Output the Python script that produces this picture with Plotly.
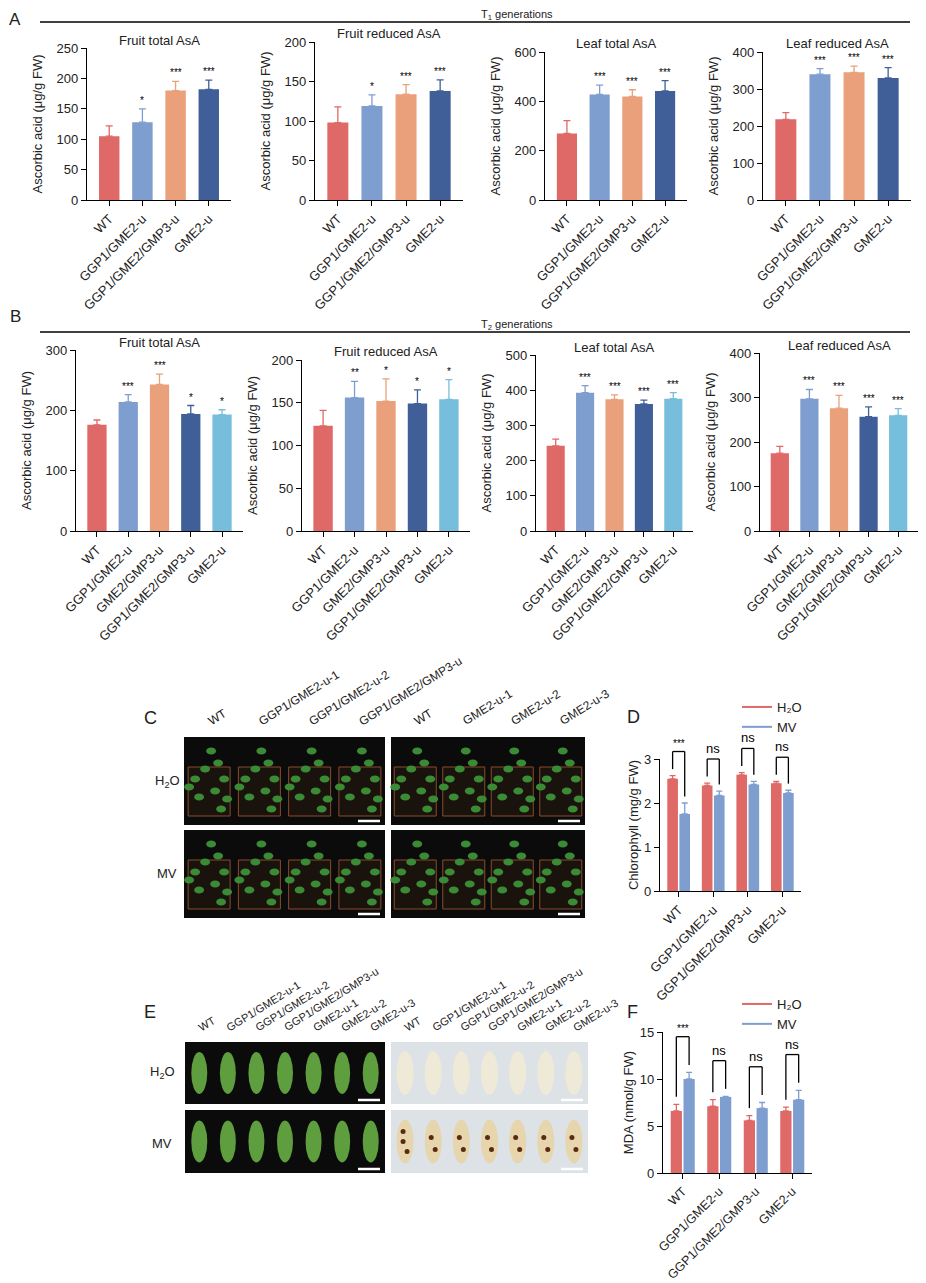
import plotly.graph_objects as go

W, H = 918, 1275   # figure size; the page body adds an 8 px margin
OFF = 8
FONT = "Liberation Sans, Arial, sans-serif"
RED, LBLUE, ORANGE, DBLUE, CYAN = "#DF6966", "#7F9ED0", "#EAA07A", "#405F99", "#76BEDB"
BARGAP = 0.3

# T1 generations: mean, SD and significance vs WT
t1_lines = ["WT", "GGP1/GME2-u", "GGP1/GME2/GMP3-u", "GME2-u"]
t1_fruit_total = [105, 128, 180, 182]
t1_fruit_total_sd = [17, 22, 15, 15]
t1_fruit_total_sig = ["", "*", "***", "***"]
t1_fruit_reduced = [98, 119, 134, 138]
t1_fruit_reduced_sd = [20, 14, 12, 14]
t1_fruit_reduced_sig = ["", "*", "***", "***"]
t1_leaf_total = [270, 428, 420, 442]
t1_leaf_total_sd = [52, 38, 27, 42]
t1_leaf_total_sig = ["", "***", "***", "***"]
t1_leaf_reduced = [218, 340, 345, 330]
t1_leaf_reduced_sd = [18, 15, 17, 28]
t1_leaf_reduced_sig = ["", "***", "***", "***"]

# T2 generations
t2_lines = ["WT", "GGP1/GME2-u", "GME2/GMP3-u", "GGP1/GME2/GMP3-u", "GME2-u"]
t2_fruit_total = [176, 214, 243, 194, 193]
t2_fruit_total_sd = [8, 12, 17, 14, 8]
t2_fruit_total_sig = ["", "***", "***", "*", "*"]
t2_fruit_reduced = [123, 156, 152, 149, 154]
t2_fruit_reduced_sd = [18, 19, 26, 16, 23]
t2_fruit_reduced_sig = ["", "**", "*", "*", "*"]
t2_leaf_total = [242, 393, 374, 361, 376]
t2_leaf_total_sd = [19, 20, 13, 11, 17]
t2_leaf_total_sig = ["", "***", "***", "***", "***"]
t2_leaf_reduced = [175, 297, 276, 257, 260]
t2_leaf_reduced_sd = [15, 21, 29, 22, 15]
t2_leaf_reduced_sig = ["", "***", "***", "***", "***"]

# methyl viologen stress (D: chlorophyll, F: MDA)
mv_lines = ["WT", "GGP1/GME2-u", "GGP1/GME2/GMP3-u", "GME2-u"]
chl_h2o = [2.55, 2.40, 2.64, 2.45]
chl_h2o_sd = [0.07, 0.05, 0.05, 0.04]
chl_mv = [1.75, 2.17, 2.42, 2.23]
chl_mv_sd = [0.25, 0.10, 0.07, 0.06]
chl_sig = ["***", "ns", "ns", "ns"]
mda_h2o = [6.6, 7.1, 5.6, 6.6]
mda_h2o_sd = [0.7, 0.7, 0.5, 0.4]
mda_mv = [10.0, 8.1, 6.9, 7.8]
mda_mv_sd = [0.7, 0.05, 0.6, 1.0]
mda_sig = ["***", "ns", "ns", "ns"]

# photo panel column labels
c_left_labels = ["WT", "GGP1/GME2-u-1", "GGP1/GME2-u-2", "GGP1/GME2/GMP3-u"]
c_right_labels = ["WT", "GME2-u-1", "GME2-u-2", "GME2-u-3"]
e_labels = ["WT", "GGP1/GME2-u-1", "GGP1/GME2-u-2", "GGP1/GME2/GMP3-u",
            "GME2-u-1", "GME2-u-2", "GME2-u-3"]


def fx(px):
    return (px - OFF) / W


def fy(py):
    return 1 - (py - OFF) / H


fig = go.Figure()
shapes, annos = [], []


def text(x, y, s, size, **kw):
    annos.append(dict(dict(x=fx(x), y=fy(y), xref="paper", yref="paper", text=s,
                           showarrow=False, xanchor="center", yanchor="middle",
                           font=dict(size=size, color="#222")), **kw))


def setup_axes(n, box, lines, ymax, dtick, ytitle, xpad, standoff, xfont=13):
    x0, x1, ytop, ybot = box
    sfx = "" if n == 1 else str(n)
    common = dict(showline=True, linecolor="black", linewidth=1.3, ticks="outside",
                  ticklen=5, tickwidth=1.3, tickcolor="black", showgrid=False,
                  zeroline=False, fixedrange=True, automargin=False,
                  tickfont=dict(size=13, color="#222"))
    fig.update_layout(**{
        f"xaxis{sfx}": dict(common, domain=[fx(x0), fx(x1)], anchor=f"y{n}",
                            range=[-xpad, len(lines) - 1 + xpad],
                            tickvals=list(range(len(lines))),
                            ticktext=lines, tickangle=-45,
                            tickfont=dict(size=xfont, color="#222")),
        f"yaxis{sfx}": dict(common, domain=[fy(ybot), fy(ytop)], anchor=f"x{n}",
                            range=[0, ymax], dtick=dtick,
                            title=dict(text=ytitle, font=dict(size=13, color="#222"),
                                       standoff=standoff)),
    })


def bar_panel(n, title, lines, vals, sd, sig, colors, ymax, dtick, box):
    setup_axes(n, box, lines, ymax, dtick, "Ascorbic acid (μg/g FW)", 0.67, 10)
    for i, (v, e, s, c) in enumerate(zip(vals, sd, sig, colors)):
        fig.add_trace(go.Bar(
            x=[i], y=[v], xaxis=f"x{n}", yaxis=f"y{n}", offsetgroup="one",
            marker=dict(color=c, line_width=0), showlegend=False,
            error_y=dict(type="data", array=[e], arrayminus=[0], symmetric=False,
                         color=c, thickness=1.3, width=3.5)))
        if s:
            annos.append(dict(x=i, y=v + e, xref=f"x{n}", yref=f"y{n}", text=s,
                              showarrow=False, yanchor="bottom", yshift=1,
                              font=dict(size=10, color="black")))
    text((box[0] + box[1]) / 2, box[2] - 8, title, 13)


def stress_panel(n, box, ymax, dtick, ytitle, h2o, h2o_sd, mv, mv_sd, sig,
                 legend, leg_pad, top_pad, standoff, xfont):
    setup_axes(n, box, mv_lines, ymax, dtick, ytitle, 0.54, standoff, xfont)
    xs = list(range(len(mv_lines)))
    for name, vals, sd, c, grp in [("H₂O", h2o, h2o_sd, RED, "h"), ("MV", mv, mv_sd, LBLUE, "m")]:
        fig.add_trace(go.Bar(
            x=xs, y=vals, xaxis=f"x{n}", yaxis=f"y{n}", offsetgroup=grp,
            marker=dict(color=c, line_width=0), showlegend=False,
            error_y=dict(type="data", array=sd, arrayminus=[0] * len(sd),
                         symmetric=False, color=c, thickness=1.3, width=3)))
        fig.add_trace(go.Scatter(x=[None], y=[None], mode="lines", name=name,
                                 line=dict(color=c, width=2), xaxis=f"x{n}",
                                 yaxis=f"y{n}", legend=legend))
    x0, x1, ytop, ybot = box

    def yv(v):
        return fy(ybot) + v / ymax * (fy(ytop) - fy(ybot))

    off = (1 - BARGAP) / 4
    for i, (a, ea, b, eb, s) in enumerate(zip(h2o, h2o_sd, mv, mv_sd, sig)):
        left, right = a + ea + leg_pad, b + eb + leg_pad
        top = max(left, right) + top_pad
        for (xa, ya, xb, yb) in [(i - off, left, i - off, top), (i - off, top, i + off, top),
                                 (i + off, top, i + off, right)]:
            shapes.append(dict(type="line", xref=f"x{n}", yref="paper", x0=xa, x1=xb,
                               y0=yv(ya), y1=yv(yb), line=dict(color="black", width=1.3)))
        annos.append(dict(x=i, y=yv(top), xref=f"x{n}", yref="paper", text=s,
                          showarrow=False, xanchor="center", yanchor="bottom", yshift=1,
                          font=dict(size=10 if s.startswith("*") else 13, color="black")))


T1C = [RED, LBLUE, ORANGE, DBLUE]
T2C = [RED, LBLUE, ORANGE, DBLUE, CYAN]

bar_panel(1, "Fruit total AsA", t1_lines, t1_fruit_total, t1_fruit_total_sd, t1_fruit_total_sig, T1C, 250, 50, (87, 231, 48, 200))
bar_panel(2, "Fruit reduced AsA", t1_lines, t1_fruit_reduced, t1_fruit_reduced_sd, t1_fruit_reduced_sig, T1C, 200, 50, (315, 463, 42, 200))
bar_panel(3, "Leaf total AsA", t1_lines, t1_leaf_total, t1_leaf_total_sd, t1_leaf_total_sig, T1C, 600, 200, (545, 687, 52, 200))
bar_panel(4, "Leaf reduced AsA", t1_lines, t1_leaf_reduced, t1_leaf_reduced_sd, t1_leaf_reduced_sig, T1C, 400, 100, (763, 911, 52, 200))
bar_panel(5, "Fruit total AsA", t2_lines, t2_fruit_total, t2_fruit_total_sd, t2_fruit_total_sig, T2C, 300, 100, (76, 243, 350, 531))
bar_panel(6, "Fruit reduced AsA", t2_lines, t2_fruit_reduced, t2_fruit_reduced_sd, t2_fruit_reduced_sig, T2C, 200, 50, (302, 470, 360, 531))
bar_panel(7, "Leaf total AsA", t2_lines, t2_leaf_total, t2_leaf_total_sd, t2_leaf_total_sig, T2C, 500, 100, (536, 693, 355, 531))
bar_panel(8, "Leaf reduced AsA", t2_lines, t2_leaf_reduced, t2_leaf_reduced_sd, t2_leaf_reduced_sig, T2C, 400, 100, (760, 918, 353, 531))

stress_panel(9, (660, 801, 759, 891), 3, 1, "Chlorophyll (mg/g FW)", chl_h2o, chl_h2o_sd,
             chl_mv, chl_mv_sd, chl_sig, "legend", 0.15, 0.4, 2, 13)
stress_panel(10, (663, 812, 1032, 1173), 15, 5, "MDA (nmol/g FW)", mda_h2o, mda_h2o_sd,
             mda_mv, mda_mv_sd, mda_sig, "legend2", 0.8, 3.0, 3, 12.5)

# section headers
for letter, ly, gen, line_y in [("A", 19, "T<sub>1</sub> generations", 22),
                                ("B", 316, "T<sub>2</sub> generations", 332)]:
    text(15, ly, letter, 17)
    text(517, line_y - 7, gen, 11)
    shapes.append(dict(type="line", xref="paper", yref="paper", x0=fx(40), x1=fx(910),
                       y0=fy(line_y), y1=fy(line_y), line=dict(color="black", width=1.3)))

for letter, lx, ly in [("C", 150, 718), ("D", 633, 717), ("E", 150, 1012), ("F", 632, 1012)]:
    text(lx, ly, letter, 18)


def rect(x0, x1, y0, y1, fill, line=None, width=0):
    shapes.append(dict(type="rect", xref="paper", yref="paper", x0=fx(x0), x1=fx(x1),
                       y0=fy(y1), y1=fy(y0), fillcolor=fill,
                       line=dict(color=line or fill, width=width)))


def ellipse(cx, cy, rx, ry, fill):
    shapes.append(dict(type="circle", xref="paper", yref="paper", x0=fx(cx - rx),
                       x1=fx(cx + rx), y0=fy(cy + ry), y1=fy(cy - ry), fillcolor=fill,
                       line=dict(width=0)))


def scale_bar(x1, y1):
    shapes.append(dict(type="line", xref="paper", yref="paper", x0=fx(x1 - 27), x1=fx(x1 - 5),
                       y0=fy(y1 - 4), y1=fy(y1 - 4), line=dict(color="white", width=2.5)))


def col_labels(names, x0, x1, top, size):
    step = (x1 - x0) / len(names)
    for i, s in enumerate(names):
        text(x0 + step * (i + 0.5) - 6, top - 6, s, size,
             textangle=-32, xanchor="left", yanchor="bottom")


# panel C: plant photos (H2O / MV)
leaf_offsets = [(-14, -6), (-4, -16), (9, -22), (15, -6), (6, 6), (-10, 12),
                (18, 14), (-20, 2), (2, -34), (12, 24)]
for x0, x1, names in [(184, 385, c_left_labels), (391, 585, c_right_labels)]:
    col_labels(names, x0, x1, 737, 12)
    for y0, y1 in [(737, 825), (830, 918)]:
        rect(x0, x1, y0, y1, "#0b0b0b")
        step = (x1 - x0) / 4
        for k in range(4):
            cx = x0 + step * (k + 0.5)
            rect(cx - 21, cx + 21, y0 + 30, y1 - 9, "#1a120c", "#8a4b2b", 1)
            for dx, dy in leaf_offsets:
                ellipse(cx + dx, y0 + 48 + dy, 5, 3.5, "#3a8a36")
        scale_bar(x1, y1)
text(167, 781, "H<sub>2</sub>O", 13)
text(167, 873, "MV", 13)

# panel E: detached leaves (left) and DAB staining (right)
for x0, x1, bg in [(185, 385, "#0b0b0b"), (391, 588, "#dde2e6")]:
    col_labels(e_labels, x0, x1, 1042, 11)
    step = (x1 - x0) / 7
    for ri, (y0, y1) in enumerate([(1042, 1104), (1110, 1173)]):
        rect(x0, x1, y0, y1, bg)
        for k in range(7):
            cx, cy = x0 + step * (k + 0.5), (y0 + y1) / 2
            if bg == "#0b0b0b":
                ellipse(cx, cy, 8, 21, "#5f9e3f")
            else:
                ellipse(cx, cy, 8.5, 22, "#efe9d8" if ri == 0 else "#e6d5ad")
                if ri == 1:
                    for dy in ([-10, 0, 10] if k == 0 else [-4, 8]):
                        ellipse(cx + (2 if dy > 0 else -2), cy + dy, 2.5, 2.5, "#5a2a12")
        scale_bar(x1, y1)
text(162, 1072, "H<sub>2</sub>O", 13)
text(162, 1143, "MV", 13)

legend_style = dict(xanchor="left", yanchor="top", font=dict(size=13, color="#222"),
                    bgcolor="rgba(0,0,0,0)", tracegroupgap=0, itemwidth=30)
fig.update_layout(
    width=W, height=H, autosize=False, margin=dict(l=0, r=0, t=0, b=0, autoexpand=False),
    paper_bgcolor="white", plot_bgcolor="white",
    font=dict(family=FONT, color="#222"),
    barmode="group", bargap=BARGAP, bargroupgap=0.12,
    showlegend=True,
    legend=dict(legend_style, x=fx(737), y=fy(692)),
    legend2=dict(legend_style, x=fx(737), y=fy(989)),
    shapes=shapes, annotations=annos,
)
fig.write_html("out.html")
